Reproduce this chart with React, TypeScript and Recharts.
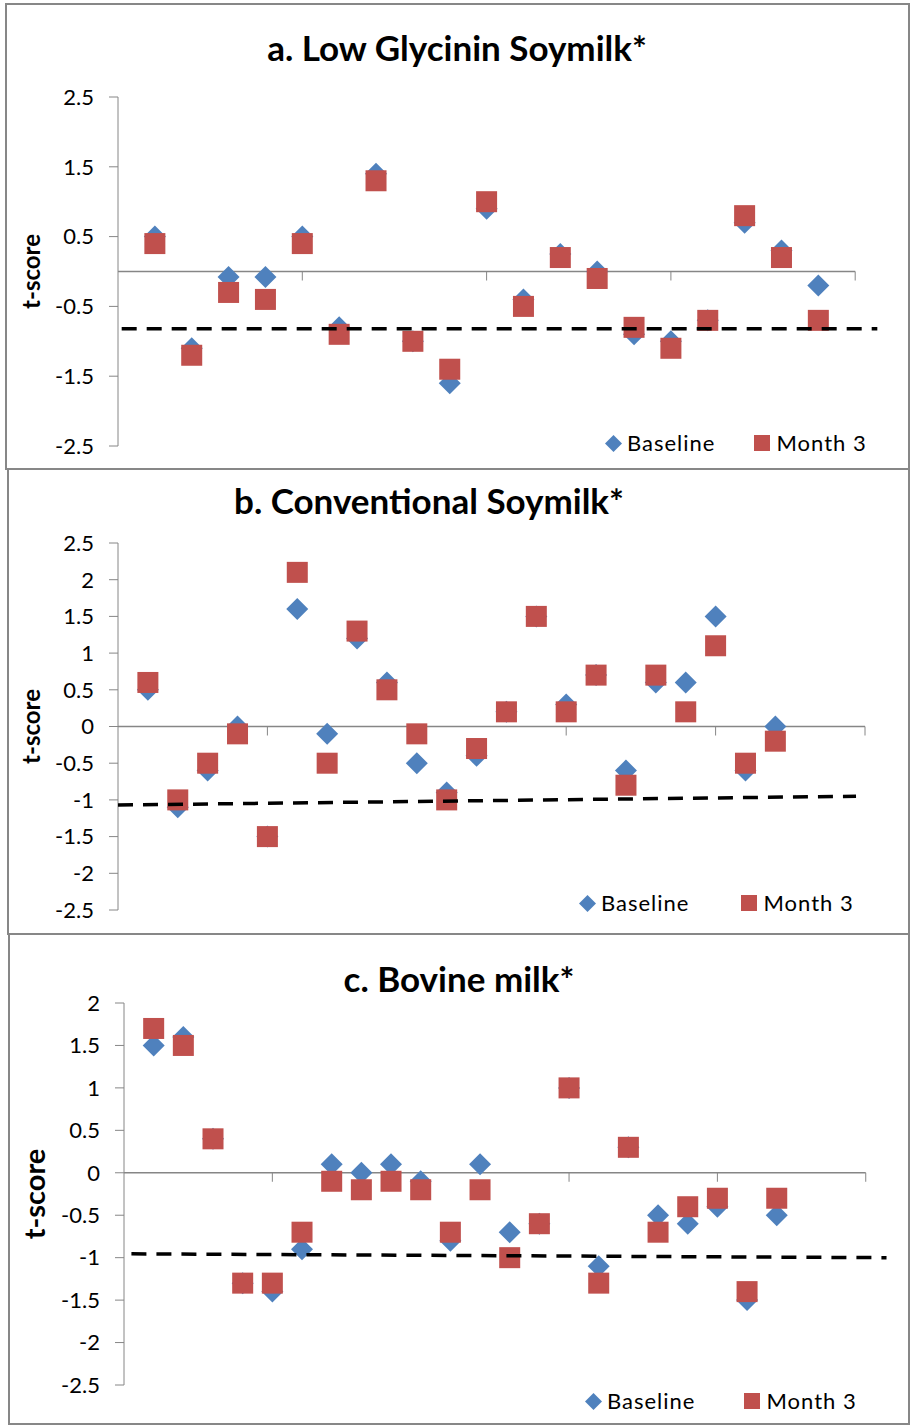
import React from "react";
import { ScatterChart, Scatter, XAxis, YAxis, ReferenceLine, ReferenceDot, Legend } from "recharts";

// Excel-style t-score scatter, three stacked panels
const FONT = "Lato, 'Open Sans', sans-serif";
const BLUE = "#4F81BD";
const RED = "#C0504D";
const AXIS = "#868686";

// a. Low Glycinin Soymilk
const A_X = [1, 2, 3, 4, 5, 6, 7, 8, 9, 10, 11, 12, 13, 14, 15, 16, 17, 18, 19];
const A_BASE = [0.5, -1.1, -0.08, -0.08, 0.5, -0.8, 1.4, -1.0, -1.6, 0.9, -0.4, 0.25, 0.0, -0.9, -1.0, -0.7, 0.7, 0.3, -0.2];
const A_M3 = [0.4, -1.2, -0.3, -0.4, 0.4, -0.9, 1.3, -1.0, -1.4, 1.0, -0.5, 0.2, -0.1, -0.8, -1.1, -0.7, 0.8, 0.2, -0.7];
const A_REF_X = [0.1, 20.6];
const A_REF_Y = [-0.82, -0.82];
const A_YTICKS = [-2.5, -1.5, -0.5, 0.5, 1.5, 2.5];
const A_XTICKS = [5, 10, 15, 20];

// b. Conventional Soymilk
const B_X = [1, 2, 3, 4, 5, 6, 7, 8, 9, 10, 11, 12, 13, 14, 15, 16, 17, 18, 19, 20, 21, 22];
const B_BASE = [0.5, -1.1, -0.6, 0.0, -1.5, 1.6, -0.1, 1.2, 0.6, -0.5, -0.9, -0.4, 0.2, 1.5, 0.3, 0.7, -0.6, 0.6, 0.6, 1.5, -0.6, 0.0];
const B_M3 = [0.6, -1.0, -0.5, -0.1, -1.5, 2.1, -0.5, 1.3, 0.5, -0.1, -1.0, -0.3, 0.2, 1.5, 0.2, 0.7, -0.8, 0.7, 0.2, 1.1, -0.5, -0.2];
const B_REF_X = [0, 24.7];
const B_REF_Y = [-1.07, -0.95];
const B_YTICKS = [-2.5, -2, -1.5, -1, -0.5, 0, 0.5, 1, 1.5, 2, 2.5];
const B_XTICKS = [5, 10, 15, 20, 25];

// c. Bovine milk
const C_X = [1, 2, 3, 4, 5, 6, 7, 8, 9, 10, 11, 12, 13, 14, 15, 16, 17, 18, 19, 20, 21, 22];
const C_BASE = [1.5, 1.6, 0.4, -1.3, -1.4, -0.9, 0.1, 0.0, 0.1, -0.1, -0.8, 0.1, -0.7, -0.6, 1.0, -1.1, 0.3, -0.5, -0.6, -0.4, -1.5, -0.5];
const C_M3 = [1.7, 1.5, 0.4, -1.3, -1.3, -0.7, -0.1, -0.2, -0.1, -0.2, -0.7, -0.2, -1.0, -0.6, 1.0, -1.3, 0.3, -0.7, -0.4, -0.3, -1.4, -0.3];
const C_REF_X = [0.25, 25.7];
const C_REF_Y = [-0.955, -1.0];
const C_YTICKS = [-2.5, -2, -1.5, -1, -0.5, 0, 0.5, 1, 1.5, 2];
const C_XTICKS = [5, 10, 15, 20, 25];

type Pt = { x: number; y: number };
const toPts = (xs: number[], ys: number[]): Pt[] => xs.map((x, i) => ({ x, y: ys[i] }));

const Diamond = (p: any) => {
  const { cx, cy } = p;
  const r = 11;
  return <path d={`M${cx},${cy - r}L${cx + r},${cy}L${cx},${cy + r}L${cx - r},${cy}Z`} fill={BLUE} />;
};
const Square = (p: any) => <rect x={p.cx - 10.5} y={p.cy - 10.5} width={21} height={21} fill={RED} />;
const NoDot = () => <g />;
const TickMark = (p: any) => <line x1={p.cx} y1={p.cy} x2={p.cx} y2={p.cy + 9} stroke={AXIS} strokeWidth={1} />;

function LegendBox({ gap }: { gap: number }) {
  const txt: React.CSSProperties = { fontFamily: FONT, fontSize: 22, letterSpacing: 1, color: "#000", lineHeight: "28px" };
  return (
    <div style={{ display: "flex", alignItems: "center", whiteSpace: "nowrap" }}>
      <svg width={17} height={17} style={{ marginRight: 5 }}>
        <path d="M8.5,0L17,8.5L8.5,17L0,8.5Z" fill={BLUE} />
      </svg>
      <span style={{ ...txt, marginRight: gap }}>Baseline</span>
      <svg width={16} height={16} style={{ marginRight: 7 }}>
        <rect width={16} height={16} fill={RED} />
      </svg>
      <span style={txt}>Month 3</span>
    </div>
  );
}

type PanelProps = {
  title: string;
  titleCx: number;
  titleCy: number;
  top: number;
  height: number;
  margin: { top: number; right: number; bottom: number; left: number };
  xMax: number;
  axisEnd: number;
  xTicks: number[];
  yDomain: [number, number];
  yTicks: number[];
  base: Pt[];
  m3: Pt[];
  dash: Pt[];
  labelX: number;
  labelCy: number;
  labelSize: number;
  legendLeft: number;
  legendTop: number;
  legendGap: number;
};

function Panel(p: PanelProps) {
  return (
    <div style={{ position: "absolute", left: 0, top: p.top, width: 911, height: p.height }}>
      <div
        style={{
          position: "absolute", left: p.titleCx - 300, width: 600, top: p.titleCy - 21, height: 42,
          lineHeight: "42px", textAlign: "center", fontFamily: FONT, fontWeight: 700, fontSize: 35, color: "#000",
        }}
      >
        {p.title}
      </div>
      <ScatterChart width={911} height={p.height} margin={p.margin}>
        <XAxis type="number" dataKey="x" domain={[0, p.xMax]} hide allowDataOverflow />
        <YAxis
          type="number"
          dataKey="y"
          domain={p.yDomain}
          ticks={p.yTicks}
          interval={0}
          width={60}
          allowDataOverflow
          axisLine={{ stroke: AXIS }}
          tickLine={{ stroke: AXIS }}
          tickSize={9}
          tickMargin={15}
          tick={{ fontSize: 22, fill: "#000", fontFamily: FONT }}
          label={{
            content: () => (
              <text
                x={p.labelX}
                y={p.labelCy}
                transform={`rotate(-90 ${p.labelX} ${p.labelCy})`}
                textAnchor="middle"
                dominantBaseline="central"
                fontFamily={FONT}
                fontWeight={700}
                fontSize={p.labelSize}
                fill="#000"
              >
                t-score
              </text>
            ),
          }}
        />
        <ReferenceLine segment={[{ x: 0, y: 0 }, { x: p.axisEnd, y: 0 }]} stroke={AXIS} strokeWidth={1.5} ifOverflow="visible" />
        {p.xTicks.map((t) => (
          <ReferenceDot key={t} x={t} y={0} ifOverflow="visible" shape={TickMark} />
        ))}
        <Scatter name="Baseline" data={p.base} shape={Diamond} isAnimationActive={false} />
        <Scatter name="Month 3" data={p.m3} shape={Square} isAnimationActive={false} />
        <Scatter
          data={p.dash}
          shape={NoDot}
          legendType="none"
          line={{ stroke: "#000", strokeWidth: 3.5, strokeDasharray: "15 10" }}
          isAnimationActive={false}
        />
        <Legend
          layout="horizontal"
          verticalAlign="middle"
          align="center"
          wrapperStyle={{ position: "absolute", left: p.legendLeft, top: p.legendTop, width: "auto", height: "auto", right: "auto", bottom: "auto" }}
          content={() => <LegendBox gap={p.legendGap} />}
        />
      </ScatterChart>
    </div>
  );
}

const boxStyle = (left: number, top: number, right: number, bottom: number): React.CSSProperties => ({
  position: "absolute", left, top, width: right - left, height: bottom - top,
  border: "2px solid #878787", boxSizing: "border-box", pointerEvents: "none",
});

export default function App() {
  return (
    <div style={{ position: "absolute", left: 0, top: 0, width: 911, height: 1427, background: "#fff", overflow: "hidden" }}>
      <div style={boxStyle(5, 3, 910, 470)} />
      <div style={boxStyle(7, 468, 910, 935)} />
      <div style={boxStyle(8, 933, 910, 1425)} />
      <Panel
        title="a. Low Glycinin Soymilk*"
        titleCx={457}
        titleCy={47}
        top={0}
        height={469}
        margin={{ top: 97, right: 30, bottom: 23, left: 58 }}
        xMax={20.7}
        axisEnd={20}
        xTicks={A_XTICKS}
        yDomain={[-2.5, 2.5]}
        yTicks={A_YTICKS}
        base={toPts(A_X, A_BASE)}
        m3={toPts(A_X, A_M3)}
        dash={toPts(A_REF_X, A_REF_Y)}
        labelX={30}
        labelCy={271.5}
        labelSize={24}
        legendLeft={605}
        legendTop={429}
        legendGap={38}
      />
      <Panel
        title="b. Conventional Soymilk*"
        titleCx={429}
        titleCy={500 - 469}
        top={469}
        height={465}
        margin={{ top: 74, right: 46, bottom: 24, left: 58 }}
        xMax={25}
        axisEnd={25}
        xTicks={B_XTICKS}
        yDomain={[-2.5, 2.5]}
        yTicks={B_YTICKS}
        base={toPts(B_X, B_BASE)}
        m3={toPts(B_X, B_M3)}
        dash={toPts(B_REF_X, B_REF_Y)}
        labelX={30}
        labelCy={257.5}
        labelSize={24}
        legendLeft={579}
        legendTop={420}
        legendGap={51}
      />
      <Panel
        title="c. Bovine milk*"
        titleCx={459}
        titleCy={978 - 934}
        top={934}
        height={490}
        margin={{ top: 69, right: 23, bottom: 39, left: 64 }}
        xMax={25.75}
        axisEnd={25}
        xTicks={C_XTICKS}
        yDomain={[-2.5, 2]}
        yTicks={C_YTICKS}
        base={toPts(C_X, C_BASE)}
        m3={toPts(C_X, C_M3)}
        dash={toPts(C_REF_X, C_REF_Y)}
        labelX={33}
        labelCy={260}
        labelSize={29}
        legendLeft={585}
        legendTop={453}
        legendGap={48}
      />
    </div>
  );
}
